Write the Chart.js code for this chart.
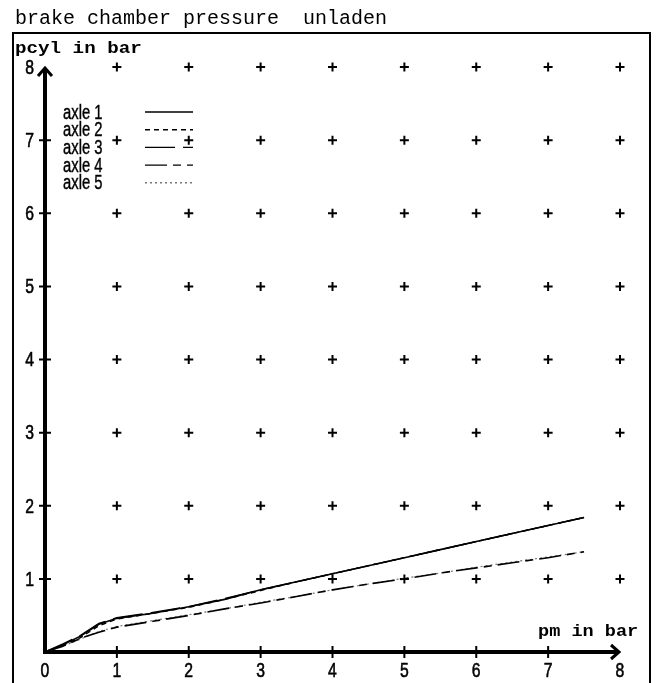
<!DOCTYPE html>
<html>
<head>
<meta charset="utf-8">
<script src="https://cdn.jsdelivr.net/npm/chart.js@4.4.1/dist/chart.umd.min.js"></script>
<style>
  html, body { margin:0; padding:0; background:#fff; }
  canvas { display:block; }
</style>
</head>
<body>
<canvas id="chart" width="658" height="683"></canvas>
<script>
// ── Data ─────────────────────────────────────────────────────────────────────
const pm    = [0, 0.25, 0.5, 0.75, 1, 1.5, 2, 2.5, 3, 3.5, 4, 4.5, 5, 5.5, 6, 6.5, 7, 7.5];
const axle1 = [0, 0.10, 0.22, 0.38, 0.46, 0.53, 0.62, 0.72, 0.85, 0.96, 1.07, 1.18, 1.29, 1.40, 1.51, 1.62, 1.73, 1.84];
const axle2 = [0, 0.09, 0.20, 0.36, 0.45, 0.53, 0.61, 0.72, 0.84, 0.96, 1.07, 1.18, 1.29, 1.40, 1.51, 1.62, 1.73, 1.84];
const axle3 = [0, 0.11, 0.23, 0.39, 0.47, 0.54, 0.62, 0.73, 0.85, 0.96, 1.07, 1.18, 1.29, 1.40, 1.51, 1.62, 1.73, 1.84];
const axle4 = [0, 0.08, 0.19, 0.27, 0.34, 0.42, 0.50, 0.59, 0.67, 0.76, 0.85, 0.93, 1.00, 1.08, 1.15, 1.22, 1.29, 1.37];
const axle5 = [0, 0.08, 0.18, 0.28, 0.35, 0.43, 0.51, 0.59, 0.68, 0.76, 0.85, 0.93, 1.01, 1.08, 1.16, 1.23, 1.30, 1.37];
const seriesNames = ['axle 1', 'axle 2', 'axle 3', 'axle 4', 'axle 5'];

const xTickLabels = ['0', '1', '2', '3', '4', '5', '6', '7', '8'];
const yTickLabels = ['1', '2', '3', '4', '5', '6', '7', '8'];
const markX = [1, 2, 3, 4, 5, 6, 7, 8];
const markY = [1, 2, 3, 4, 5, 6, 7, 8];

const chartTitle = 'brake chamber pressure  unladen';
const yTitle = 'pcyl in bar';
const xTitle = 'pm in bar';

// ── Styles ──────────────────────────────────────────────────────────────────
const lineStyles = [
  { color:'#000', dash:[],          width:1.6 },
  { color:'#000', dash:[5,4],       width:1.4 },
  { color:'#000', dash:[30,8],      width:1.4 },
  { color:'#000', dash:[22,6,8,6],  width:1.6 },
  { color:'#777', dash:[2,3],       width:1.2 },
];
const SANS = 'Liberation Sans';
const MONO = 'Liberation Mono';

// horizontally squeezed text, with a hairline stroke to make it heavier
function narrowText(ctx, txt, x, y, font, sx, align, heavy) {
  ctx.save();
  ctx.font = font;
  ctx.textAlign = align || 'left';
  ctx.translate(x, y);
  ctx.scale(sx, 1);
  ctx.fillText(txt, 0, 0);
  if (heavy) { ctx.lineWidth = heavy; ctx.strokeText(txt, 0, 0); }
  ctx.restore();
}

const series = [axle1, axle2, axle3, axle4, axle5];
const curveSets = series.map((vals, i) => ({
  label: seriesNames[i],
  type: 'line',
  data: pm.map((x, k) => ({ x, y: vals[k] })),
  borderColor: lineStyles[i].color,
  borderDash: lineStyles[i].dash,
  borderWidth: lineStyles[i].width,
  pointRadius: 0,
  tension: 0,
  fill: false,
  clip: false,
}));

const marks = [];
for (const y of markY) for (const x of markX) marks.push({ x, y });

// ── Axes, frame and texts drawn behind the data ─────────────────────────────
const framePlugin = {
  id: 'frame',
  beforeDatasetsDraw(chart) {
    const ctx = chart.ctx, xs = chart.scales.x, ys = chart.scales.y;
    const x0 = xs.getPixelForValue(0), y0 = ys.getPixelForValue(0);
    const xEnd = xs.getPixelForValue(8), yEnd = ys.getPixelForValue(8);
    ctx.save();
    ctx.fillStyle = '#000';
    ctx.strokeStyle = '#000';

    // outer frame
    ctx.lineWidth = 2;
    ctx.strokeRect(13, 33, 637, 700);

    // title
    ctx.font = `20px ${MONO}`;
    ctx.textBaseline = 'alphabetic';
    ctx.fillText(chartTitle, 15, 24);

    // axis lines
    ctx.lineWidth = 4;
    ctx.lineCap = 'butt';
    ctx.beginPath();
    ctx.moveTo(x0, y0 + 2); ctx.lineTo(x0, yEnd + 2);
    ctx.moveTo(x0 - 2, y0); ctx.lineTo(xEnd - 2, y0);
    ctx.stroke();

    // arrow heads
    ctx.lineWidth = 3;
    ctx.lineJoin = 'miter';
    ctx.beginPath();
    ctx.moveTo(x0 - 7, yEnd + 9); ctx.lineTo(x0, yEnd + 1); ctx.lineTo(x0 + 7, yEnd + 9);
    ctx.moveTo(xEnd - 9, y0 - 7); ctx.lineTo(xEnd - 1, y0); ctx.lineTo(xEnd - 9, y0 + 7);
    ctx.stroke();

    // ticks crossing the axes
    ctx.lineWidth = 2;
    ctx.beginPath();
    for (let v = 1; v < 8; v++) {
      const px = xs.getPixelForValue(v);
      ctx.moveTo(px, y0 - 6); ctx.lineTo(px, y0 + 6);
      const py = ys.getPixelForValue(v);
      ctx.moveTo(x0 - 6, py); ctx.lineTo(x0 + 6, py);
    }
    ctx.stroke();

    // tick labels
    ctx.textBaseline = 'middle';
    xTickLabels.forEach((t, i) => {
      narrowText(ctx, t, xs.getPixelForValue(i), 671, `21px ${SANS}`, 0.75, 'center', 0.6);
    });
    yTickLabels.forEach((t, i) => {
      narrowText(ctx, t, 34, ys.getPixelForValue(i + 1) + 1, `21px ${SANS}`, 0.75, 'right', 0.6);
    });

    // axis titles
    ctx.textBaseline = 'alphabetic';
    narrowText(ctx, yTitle, 15, 53, `bold 16px ${MONO}`, 1.2, 'left');
    narrowText(ctx, xTitle, 538, 636, `bold 16px ${MONO}`, 1.16, 'left');
    ctx.restore();
  },
  afterDatasetsDraw(chart) {
    // legend: name first, then the line sample
    const ctx = chart.ctx;
    ctx.save();
    ctx.fillStyle = '#000';
    ctx.strokeStyle = '#000';
    ctx.textBaseline = 'middle';
    seriesNames.forEach((name, i) => {
      const y = 112 + 17.7 * i;
      narrowText(ctx, name, 63, y + 1, `20px ${SANS}`, 0.74, 'left', 0.4);
      ctx.save();
      ctx.strokeStyle = lineStyles[i].color;
      ctx.setLineDash(lineStyles[i].dash);
      ctx.lineWidth = 1.4;
      ctx.beginPath();
      ctx.moveTo(145, y); ctx.lineTo(193, y);
      ctx.stroke();
      ctx.restore();
    });
    ctx.restore();
  }
};

new Chart(document.getElementById('chart').getContext('2d'), {
  type: 'scatter',
  data: {
    datasets: [
      ...curveSets,
      {
        label: 'grid',
        type: 'scatter',
        data: marks,
        pointStyle: 'cross',
        pointRadius: 4.5,
        borderColor: '#000',
        borderWidth: 2,
        clip: false,
      }
    ]
  },
  options: {
    responsive: false,
    animation: false,
    devicePixelRatio: 1,
    layout: { padding: { left:45, right:38, top:67, bottom:31 } },
    plugins: { legend: { display:false }, title: { display:false }, tooltip: { enabled:false } },
    scales: {
      x: { type:'linear', min:0, max:8, display:false },
      y: { type:'linear', min:0, max:8, display:false }
    }
  },
  plugins: [framePlugin]
});
</script>
</body>
</html>
